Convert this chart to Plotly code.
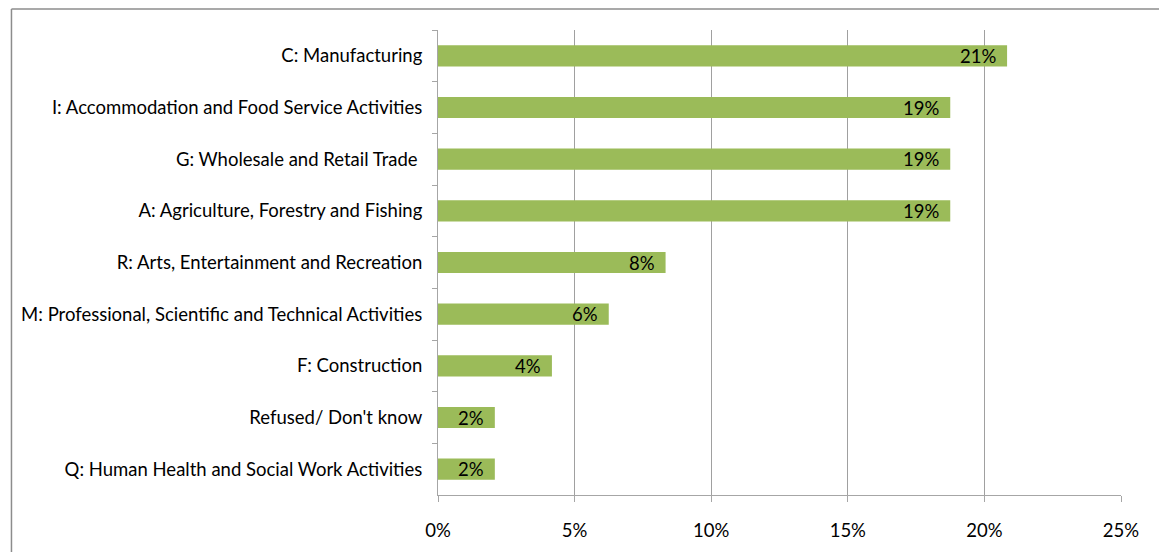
import plotly.graph_objects as go

# Share of respondents by industry sector (NACE section)
sectors = [
    "C: Manufacturing",
    "I: Accommodation and Food Service Activities",
    "G: Wholesale and Retail Trade ",
    "A: Agriculture, Forestry and Fishing",
    "R: Arts, Entertainment and Recreation",
    "M: Professional, Scientific and Technical Activities",
    "F: Construction",
    "Refused/ Don't know",
    "Q: Human Health and Social Work Activities",
]
shares = [0.2083, 0.1875, 0.1875, 0.1875, 0.0833, 0.0625, 0.0417, 0.0208, 0.0208]

x_ticks = [0, 0.05, 0.10, 0.15, 0.20, 0.25]
x_tick_labels = ["0%", "5%", "10%", "15%", "20%", "25%"]

FONT = "Lato, Calibri, sans-serif"
FONT_SIZE = 18.5
AXIS_GREY = "#A6A6A6"
GRID_GREY = "#A0A0A0"
BAR_GREEN = "#9BBB59"

fig = go.Figure(
    go.Bar(
        x=shares,
        y=sectors,
        orientation="h",
        marker=dict(color=BAR_GREEN, line=dict(width=0)),
        hoverinfo="x+y",
    )
)

# Value labels placed just inside the end of each bar
for sector, share in zip(sectors, shares):
    fig.add_annotation(
        x=share, y=sector, xref="x", yref="y",
        text=f"{share:.0%}",
        showarrow=False,
        xanchor="right", yanchor="middle",
        xshift=-9, yshift=0,
        font=dict(family=FONT, size=FONT_SIZE, color="#000000"),
    )

fig.update_layout(
    width=1159,
    height=552,
    margin=dict(l=438, r=38, t=30, b=57),
    paper_bgcolor="white",
    plot_bgcolor="white",
    showlegend=False,
    bargap=0.59,
    font=dict(family=FONT, size=FONT_SIZE, color="#000000"),
)

fig.update_xaxes(
    range=[0, 0.25],
    tickvals=x_ticks,
    ticktext=x_tick_labels,
    showgrid=True,
    gridcolor=GRID_GREY,
    gridwidth=1,
    showline=True,
    linecolor=AXIS_GREY,
    linewidth=1,
    ticks="outside",
    ticklen=6,
    tickcolor=AXIS_GREY,
    ticklabelstandoff=13,
    zeroline=False,
    tickfont=dict(family=FONT, size=FONT_SIZE),
)

fig.update_yaxes(
    autorange="reversed",
    type="category",
    showline=True,
    linecolor=AXIS_GREY,
    linewidth=1,
    ticks="outside",
    tickson="boundaries",
    ticklen=5,
    tickcolor=AXIS_GREY,
    ticklabelstandoff=11,
    showgrid=False,
    tickfont=dict(family=FONT, size=FONT_SIZE),
)

# Chart frame: left and top edges
fig.add_shape(type="line", xref="paper", yref="paper",
              x0=-0.6245, x1=-0.6245, y0=-0.2, y1=1.0452,
              line=dict(color="#8C8C8C", width=1.5))
fig.add_shape(type="line", xref="paper", yref="paper",
              x0=-0.6245, x1=1.1, y0=1.0452, y1=1.0452,
              line=dict(color="#8C8C8C", width=1.5))

fig.write_html("out.html")
